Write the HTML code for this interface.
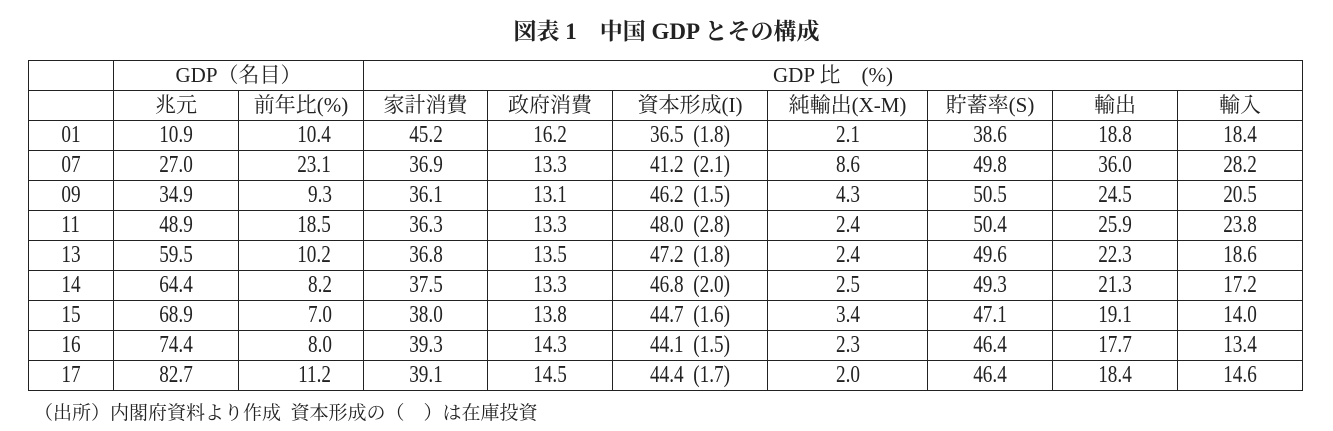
<!DOCTYPE html>
<html><head><meta charset="utf-8"><style>
body{margin:0;width:1333px;height:431px;background:#fff;position:relative;overflow:hidden;font-family:"Liberation Serif","Noto Serif CJK JP",serif;color:#222}
.t{position:absolute;top:17px;left:0;width:1333px;text-align:center;font-weight:bold;font-size:23px;line-height:30px}
table{position:absolute;left:28px;top:60px;border-collapse:collapse;table-layout:fixed}
tr{height:30px}
td{border:1.3px solid #222;height:30px;box-sizing:border-box;padding:0;text-align:center;font-size:21px;line-height:26px;white-space:pre;overflow:hidden}
td span{display:inline-block;height:27px;line-height:27px;vertical-align:top}
.n{transform:scaleX(0.8);font-size:24px}
td.r{text-align:right;padding-right:28px}
.f{position:absolute;left:34px;top:401px;font-size:19px;line-height:26px}
</style></head><body>
<div class="t">図表 1　中国 GDP とその構成</div>
<table>
<colgroup><col style="width:85px"><col style="width:125px"><col style="width:125px"><col style="width:124px"><col style="width:125px"><col style="width:155px"><col style="width:160px"><col style="width:125px"><col style="width:125px"><col style="width:125px"></colgroup>
<tr><td></td><td colspan="2"><span>GDP（名目）</span></td><td colspan="7"><span>GDP 比　(%)</span></td></tr>
<tr><td></td><td><span>兆元</span></td><td><span>前年比(%)</span></td><td><span>家計消費</span></td><td><span>政府消費</span></td><td><span>資本形成(I)</span></td><td><span>純輸出(X-M)</span></td><td><span>貯蓄率(S)</span></td><td><span>輸出</span></td><td><span>輸入</span></td></tr>
<tr><td><span class="n">01</span></td><td><span class="n">10.9</span></td><td class="r"><span class="n">10.4</span></td><td><span class="n">45.2</span></td><td><span class="n">16.2</span></td><td><span class="n">36.5  (1.8)</span></td><td><span class="n">2.1</span></td><td><span class="n">38.6</span></td><td><span class="n">18.8</span></td><td><span class="n">18.4</span></td></tr>
<tr><td><span class="n">07</span></td><td><span class="n">27.0</span></td><td class="r"><span class="n">23.1</span></td><td><span class="n">36.9</span></td><td><span class="n">13.3</span></td><td><span class="n">41.2  (2.1)</span></td><td><span class="n">8.6</span></td><td><span class="n">49.8</span></td><td><span class="n">36.0</span></td><td><span class="n">28.2</span></td></tr>
<tr><td><span class="n">09</span></td><td><span class="n">34.9</span></td><td class="r"><span class="n">9.3</span></td><td><span class="n">36.1</span></td><td><span class="n">13.1</span></td><td><span class="n">46.2  (1.5)</span></td><td><span class="n">4.3</span></td><td><span class="n">50.5</span></td><td><span class="n">24.5</span></td><td><span class="n">20.5</span></td></tr>
<tr><td><span class="n">11</span></td><td><span class="n">48.9</span></td><td class="r"><span class="n">18.5</span></td><td><span class="n">36.3</span></td><td><span class="n">13.3</span></td><td><span class="n">48.0  (2.8)</span></td><td><span class="n">2.4</span></td><td><span class="n">50.4</span></td><td><span class="n">25.9</span></td><td><span class="n">23.8</span></td></tr>
<tr><td><span class="n">13</span></td><td><span class="n">59.5</span></td><td class="r"><span class="n">10.2</span></td><td><span class="n">36.8</span></td><td><span class="n">13.5</span></td><td><span class="n">47.2  (1.8)</span></td><td><span class="n">2.4</span></td><td><span class="n">49.6</span></td><td><span class="n">22.3</span></td><td><span class="n">18.6</span></td></tr>
<tr><td><span class="n">14</span></td><td><span class="n">64.4</span></td><td class="r"><span class="n">8.2</span></td><td><span class="n">37.5</span></td><td><span class="n">13.3</span></td><td><span class="n">46.8  (2.0)</span></td><td><span class="n">2.5</span></td><td><span class="n">49.3</span></td><td><span class="n">21.3</span></td><td><span class="n">17.2</span></td></tr>
<tr><td><span class="n">15</span></td><td><span class="n">68.9</span></td><td class="r"><span class="n">7.0</span></td><td><span class="n">38.0</span></td><td><span class="n">13.8</span></td><td><span class="n">44.7  (1.6)</span></td><td><span class="n">3.4</span></td><td><span class="n">47.1</span></td><td><span class="n">19.1</span></td><td><span class="n">14.0</span></td></tr>
<tr><td><span class="n">16</span></td><td><span class="n">74.4</span></td><td class="r"><span class="n">8.0</span></td><td><span class="n">39.3</span></td><td><span class="n">14.3</span></td><td><span class="n">44.1  (1.5)</span></td><td><span class="n">2.3</span></td><td><span class="n">46.4</span></td><td><span class="n">17.7</span></td><td><span class="n">13.4</span></td></tr>
<tr><td><span class="n">17</span></td><td><span class="n">82.7</span></td><td class="r"><span class="n">11.2</span></td><td><span class="n">39.1</span></td><td><span class="n">14.5</span></td><td><span class="n">44.4  (1.7)</span></td><td><span class="n">2.0</span></td><td><span class="n">46.4</span></td><td><span class="n">18.4</span></td><td><span class="n">14.6</span></td></tr>
</table>
<div class="f">（出所）内閣府資料より作成&nbsp; 資本形成の（　）は在庫投資</div>
</body></html>
